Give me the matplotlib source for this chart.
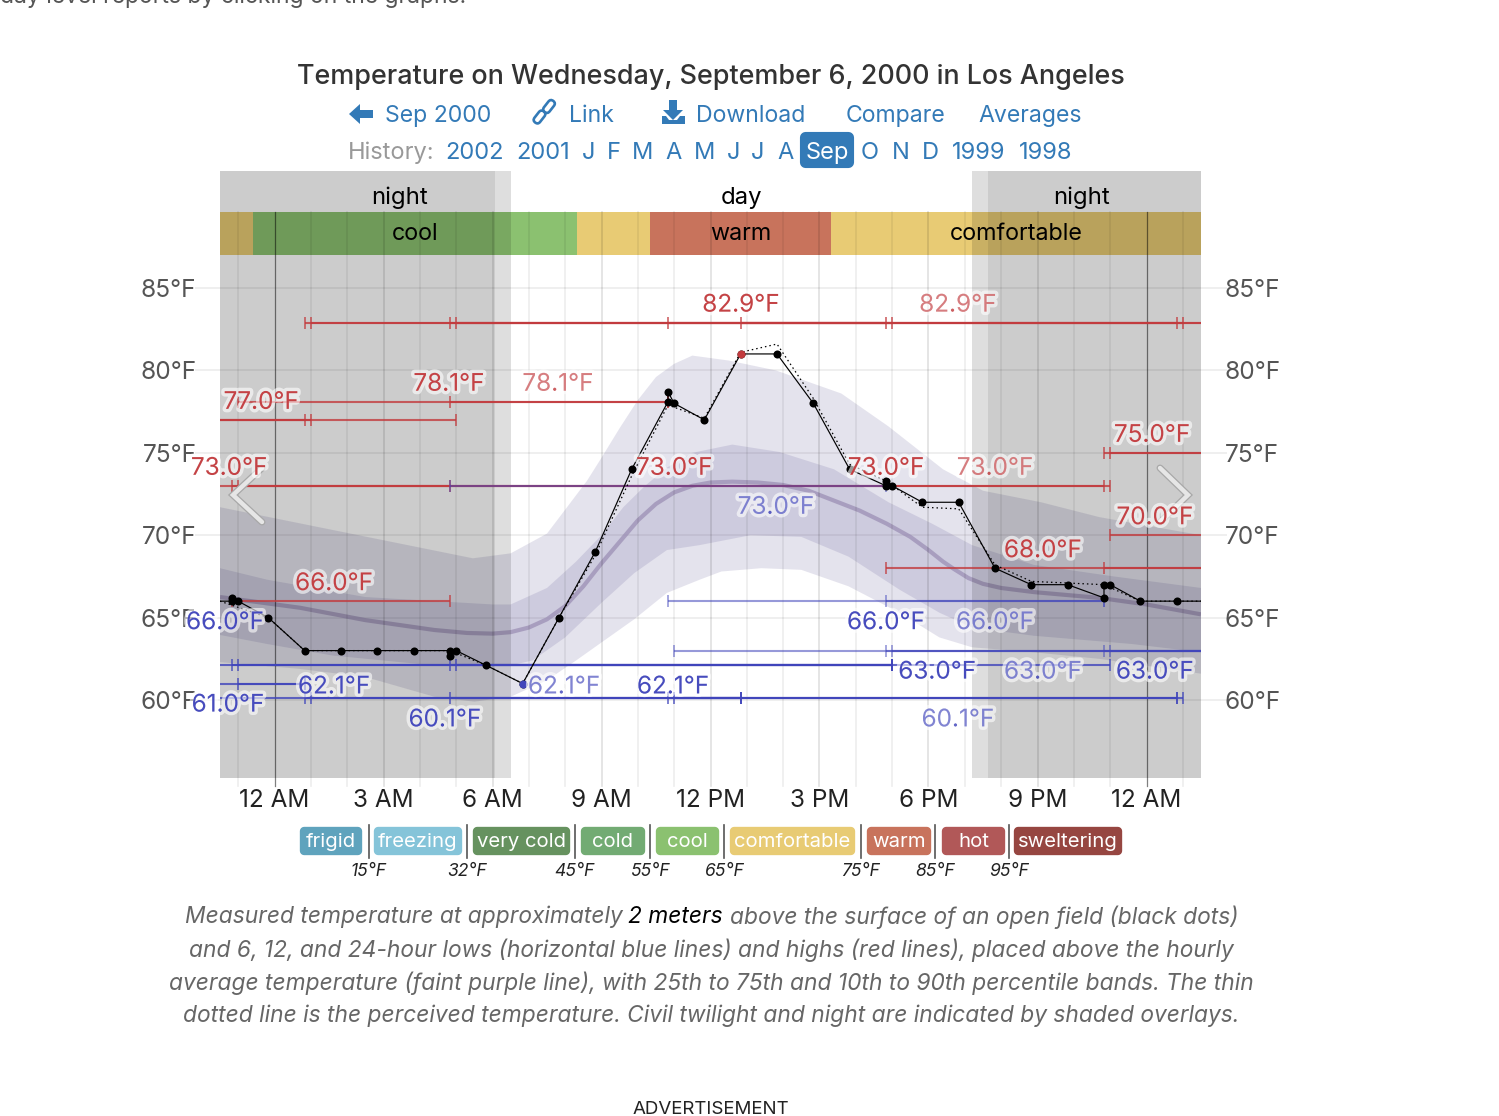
import matplotlib
matplotlib.use('Agg')
import matplotlib.pyplot as plt
import matplotlib.patheffects as pe
from matplotlib.patches import FancyBboxPatch, Polygon
from matplotlib.transforms import Affine2D

plt.rcParams['font.family'] = ['Inter', 'DejaVu Sans']

# observed temperature (hours after midnight, first and last are the plot edges)
obs_hours = [-1.5, -1.17, -1.17, -1.0, -0.17, 0.83, 1.83, 2.83, 3.83, 4.83, 4.83, 5.0, 5.83, 6.83, 7.83, 8.83, 9.83,
             10.83, 10.83, 11.0, 11.83, 12.83, 13.83, 14.83, 15.83, 16.83, 16.83, 17.0, 17.83, 18.83, 19.83, 20.83,
             21.83, 22.83, 22.83, 23.0, 23.83, 24.83, 25.5]
obs_temps = [66.0, 66.0, 66.2, 66.0, 65.0, 63.0, 63.0, 63.0, 63.0, 63.0, 62.7, 63.0, 62.1, 61.0, 65.0, 69.0, 74.0,
             78.1, 78.7, 78.0, 77.0, 81.0, 81.0, 78.0, 74.0, 73.0, 73.3, 73.0, 72.0, 72.0, 68.0, 67.0,
             67.0, 66.2, 67.0, 67.0, 66.0, 66.0, 66.0]
# perceived temperature
feel_hours = [-1.5, -0.17, 0.83, 4.83, 5.83, 6.83, 7.83, 8.83, 9.83, 10.83, 11.83, 12.83, 13.83, 14.83, 15.83, 16.83,
              17.83, 18.83, 19.83, 20.83, 21.83, 22.83, 23.83, 24.83, 25.5]
feel_temps = [66.0, 65.0, 63.0, 63.0, 62.1, 61.0, 65.0, 68.8, 73.6, 77.9, 77.1, 81.1, 81.6, 78.3, 74.3, 73.3,
              71.7, 71.6, 68.2, 67.2, 67.1, 67.0, 66.0, 66.0, 66.0]

# climate bands
p90_hours = [-1.5, 5.46, 6.5, 7.5, 8.0, 8.6, 9.0, 9.5, 10.0, 10.5, 11.0, 11.5, 12.5, 13.8, 15.6, 16.9, 18.4, 19.5, 21.1, 22.7, 25.5]
p90_temps = [71.7, 68.6, 68.9, 70.1, 71.55, 73.3, 74.7, 76.5, 78.2, 79.6, 80.4, 80.9, 80.6, 80.0, 78.6, 76.6, 74.0, 72.7, 72.0, 71.1, 70.0]
p75_hours = [-1.5, -0.2, 2.5, 6.0, 6.5, 7.5, 8.3, 9.0, 9.6, 10.2, 10.8, 11.5, 12.6, 13.9, 15.4, 16.9, 18.1, 19.2, 20.9, 23.1, 25.5]
p75_temps = [68.0, 67.3, 66.25, 65.8, 65.8, 66.8, 68.4, 70.0, 71.7, 73.0, 74.1, 75.0, 75.5, 75.05, 74.0, 72.0, 70.7, 69.4, 68.2, 67.5, 66.8]
avg_hours = [-1.5, 0.7, 2.5, 4.4, 5.3, 6.0, 6.5, 7.0, 7.5, 8.0, 8.5, 9.0, 9.5, 10.0, 10.5, 11.0, 11.5, 12.0, 12.6, 13.3, 14.0,
             14.7, 15.4, 16.1, 16.85, 17.5, 18.0, 18.4, 18.7, 19.1, 19.5, 20.0, 20.9, 22.7, 24.0, 25.5]
avg_temps = [66.25, 65.6, 64.85, 64.25, 64.07, 64.03, 64.12, 64.4, 64.9, 65.7, 66.9, 68.3, 69.6, 70.9, 71.9, 72.6, 73.0, 73.2, 73.25, 73.2, 73.05,
             72.7, 72.1, 71.5, 70.7, 69.9, 69.1, 68.4, 67.95, 67.4, 67.05, 66.8, 66.55, 66.2, 65.8, 65.2]
p25_hours = [-1.5, -0.2, 1.6, 4.4, 6.0, 6.5, 7.1, 8.0, 9.0, 9.9, 10.8, 11.7, 13.1, 14.5, 15.8, 17.2, 18.3, 19.2, 20.9, 23.6, 25.5]
p25_temps = [63.95, 63.4, 62.7, 62.1, 62.1, 62.1, 62.4, 63.8, 65.9, 67.7, 69.1, 69.4, 70.0, 69.9, 68.7, 66.7, 65.3, 64.4, 63.9, 63.4, 62.9]
p10_hours = [-1.5, 0.65, 2.5, 4.4, 5.5, 6.5, 7.5, 8.3, 9.9, 10.8, 11.7, 12.3, 13.4, 14.5, 15.8, 17.2, 18.3, 19.2, 20.9, 22.7, 25.5]
p10_temps = [62.3, 61.9, 61.4, 60.2, 59.9, 60.2, 61.2, 62.4, 64.9, 66.5, 67.3, 67.8, 68.0, 67.9, 66.9, 65.3, 63.8, 63.2, 62.9, 62.5, 61.6]

# 6, 12 and 24 hour highs and lows
high_starts = [0.83, 1.0, 4.83, 5.0, 10.83, 12.83, -1.0, 4.83, -1.5, -1.5, -1.5, 22.83, 23.0, -1.5, -1.17, -1.0, 23.0, 16.83, 22.83, -1.17]
high_ends = [24.83, 25.0, 16.83, 17.0, 25.5, 25.5, 10.83, 10.83, 0.83, 1.0, 5.0, 25.5, 25.5, 4.83, 22.83, 23.0, 25.5, 25.5, 25.5, 4.83]
high_values = [82.9, 82.9, 82.9, 82.9, 82.9, 82.9, 78.1, 78.1, 77.0, 77.0, 77.0, 75.0, 75.0, 73.0, 73.0, 73.0, 70.0, 68.0, 68.0, 66.0]
low_starts = [4.83, 10.83, 16.83, 11.0, 17.0, 16.83, 22.83, 23.0, -1.5, -1.17, -1.0, 4.83, 5.0, -1.5, -1.0, -1.5, 0.83, 1.0, 4.83, 10.83, 11.0]
low_ends = [16.83, 22.83, 22.83, 25.5, 25.5, 25.5, 25.5, 25.5, 23.0, 17.0, 17.0, 17.0, 17.0, 0.83, 0.83, 24.83, 24.83, 25.0, 12.83, 12.83, 12.83]
low_values = [73.0, 66.0, 66.0, 63.0, 63.0, 63.0, 63.0, 63.0, 62.1, 62.1, 62.1, 62.1, 62.1, 61.0, 61.0, 60.1, 60.1, 60.1, 60.1, 60.1, 60.1]

# value labels: hour, value, faded or not
high_label_hours = [12.84, 18.81, 4.8, 7.8, -0.37, -1.25, 11.0, 16.83, 19.83, 24.15, 24.23, 21.15, 1.64]
high_label_values = [82.9, 82.9, 78.1, 78.1, 77.0, 73.0, 73.0, 73.0, 73.0, 75.0, 70.0, 68.0, 66.0]
high_label_faded = [0, 1, 0, 1, 0, 0, 0, 0, 1, 0, 0, 0, 0]
low_label_hours = [13.8, -1.36, 16.83, 19.83, 18.24, 21.15, 24.23, 1.64, 7.97, 10.97, -1.28, 4.69, 18.81]
low_label_values = [73.0, 66.0, 66.0, 66.0, 63.0, 63.0, 63.0, 62.1, 62.1, 62.1, 61.0, 60.1, 60.1]
low_label_faded = [1, 0, 0, 1, 0, 1, 0, 0, 1, 0, 0, 0, 1]

# temperature category strip
band_edges = [-1.5, -0.6, 8.33, 10.33, 15.32, 25.5]
band_names = ['', 'cool', '', 'warm', 'comfortable']
band_colors = ['#e8cb74', '#8bc170', '#e8cb74', '#c8735c', '#e8cb74']
period_names = ['night', 'day', 'night']
period_hours = [3.45, 12.84, 22.2]
twilight_spans = [(-1.5, 6.51), (19.2, 25.5)]
night_spans = [(-1.5, 6.07), (19.64, 25.5)]

y_ticks = [85, 80, 75, 70, 65, 60]
x_ticks = [0, 3, 6, 9, 12, 15, 18, 21, 24]
x_tick_labels = ['12 AM', '3 AM', '6 AM', '9 AM', '12 PM', '3 PM', '6 PM', '9 PM', '12 AM']

# legend below the chart
legend_names = ['frigid', 'freezing', 'very cold', 'cold', 'cool', 'comfortable', 'warm', 'hot', 'sweltering']
legend_colors = ['#5fa3bd', '#85c4d9', '#66925f', '#72ab73', '#8bc170', '#e8cb74', '#c8735c', '#b15858', '#964641']
legend_left = [300, 374, 473, 581, 656, 730, 867, 942, 1014]
legend_right = [362, 462, 570, 645, 719, 855, 931, 1005, 1122]
legend_temps = ['15°F', '32°F', '45°F', '55°F', '65°F', '75°F', '85°F', '95°F']
legend_seps = [369, 467, 575, 650, 724.5, 861, 935, 1009]

nav_labels = ['Sep 2000', 'Link', 'Download', 'Compare', 'Averages']
nav_x = [438, 591, 751, 895.5, 1030]
history_labels = ['2002', '2001', 'J', 'F', 'M', 'A', 'M', 'J', 'J', 'A', 'O', 'N', 'D', '1999', '1998']
history_x = [475, 543, 589, 613.5, 643, 674, 704.5, 734, 758, 785.5, 870, 900.5, 930, 978.5, 1045.5]

RED = '#c23b3e'
BLUE = '#4045bb'
LINK = '#337ab7'

fig = plt.figure(figsize=(14.99, 11.16), dpi=100)
ax = fig.add_axes([220 / 1499, 1 - 778 / 1116, 981 / 1499, 607 / 1116])
ax.set_xlim(-1.5, 25.5)
ax.set_ylim(55.27, 92.1)
for s in ax.spines.values():
    s.set_visible(False)

ax.set_xticks(x_ticks)
ax.set_xticklabels(x_tick_labels)
ax.set_yticks(y_ticks)
ax.set_yticklabels([str(t) + '°F' for t in y_ticks])
ax.tick_params(axis='x', length=0, pad=8, labelsize=17.5, labelcolor='#222222')
ax.tick_params(axis='y', length=0, pad=17, labelsize=17.6, labelcolor='#555555', labelright=True)

ytrans = ax.get_yaxis_transform()
xtrans = ax.get_xaxis_transform()

# grid
ax.hlines(y_ticks, -0.025, 1.026, transform=ytrans, color='#000000', alpha=0.07, lw=1.3, clip_on=False, zorder=1)
for h in range(-1, 26):
    if h % 24 == 0:
        a, w = 0.5, 0.9
    elif h % 3 == 0:
        a, w = 0.12, 1.2
    else:
        a, w = 0.07, 1.2
    ax.plot([h, h], [-0.014, 0.932], transform=xtrans, color='black', alpha=a, lw=w, clip_on=False, zorder=5)

# percentile bands and average
ax.fill(p90_hours + p10_hours[::-1], p90_temps + p10_temps[::-1], color='#50468a', alpha=0.15, lw=0, zorder=2)
ax.fill(p75_hours + p25_hours[::-1], p75_temps + p25_temps[::-1], color='#50468a', alpha=0.15, lw=0, zorder=2)
ax.plot(avg_hours, avg_temps, color='#9c90b5', lw=3, alpha=0.75, zorder=3, solid_capstyle='butt')

# category strip
for i in range(len(band_names)):
    ax.axvspan(band_edges[i], band_edges[i + 1], 0.8616, 0.932, color=band_colors[i], lw=0, zorder=2)
    if band_names[i]:
        ax.text((band_edges[i] + band_edges[i + 1]) / 2, 0.8955, band_names[i], transform=xtrans, ha='center',
                va='center', fontsize=16.8, color='black', zorder=12)
for name, h in zip(period_names, period_hours):
    ax.text(h, 0.956, name, transform=xtrans, ha='center', va='center', fontsize=17.2, color='black', zorder=12)

# twilight and night overlays
for a, b in twilight_spans:
    ax.axvspan(a, b, color='black', alpha=0.13, lw=0, zorder=4)
for a, b in night_spans:
    ax.axvspan(a, b, color='black', alpha=0.08, lw=0, zorder=4)


def range_lines(starts, ends, values, color, faint=()):
    for a, b, v in zip(starts, ends, values):
        al = 0.55 if v in faint else 0.8
        ax.plot([a, b], [v, v], color=color, lw=1.5, alpha=al, zorder=6, solid_capstyle='butt')
        for h in (a, b):
            if -1.5 < h < 25.5:
                ax.plot([h], [v], marker='|', ms=8, mew=1.2, color=color, alpha=al, zorder=6)


range_lines(high_starts, high_ends, high_values, RED)
range_lines(low_starts, low_ends, low_values, BLUE, faint=(73.0, 66.0, 63.0))

# measured and perceived temperature
ax.plot(feel_hours, feel_temps, color='black', lw=0.9, ls=(0, (1.2, 2.4)), zorder=7)
ax.plot(obs_hours, obs_temps, color='black', lw=0.85, zorder=8)
ax.plot(obs_hours[1:-1], obs_temps[1:-1], ls='none', marker='o', ms=5.8, color='black', mew=0, zorder=9)
ax.plot([obs_hours[21]], [obs_temps[21]], marker='o', ms=5.8, color=RED, mew=0, zorder=10)
ax.plot([obs_hours[13]], [obs_temps[13]], marker='o', ms=5.8, color=BLUE, mew=0, zorder=10)


def value_labels(hours, values, faded, color, dy):
    for h, v, f in zip(hours, values, faded):
        al = 0.55 if f else 0.95
        ax.annotate('%.1f°F' % v, (h, v), xytext=(0, dy), textcoords='offset pixels', ha='center', va='center',
                    fontsize=17.5, color=color, alpha=al, zorder=11,
                    path_effects=[pe.withStroke(linewidth=5, foreground='white', alpha=0.6)])


value_labels(high_label_hours, high_label_values, high_label_faded, RED, 17.5)
value_labels(low_label_hours, low_label_values, low_label_faded, BLUE, -21.5)

# everything around the chart is placed in page pixels
page = fig.add_axes([0, 0, 1, 1], zorder=20)
page.set_xlim(0, 1499)
page.set_ylim(1116, 0)
page.axis('off')

page.text(0, 3.5, 'day level reports by clicking on the graphs.', fontsize=16.5, color='#555555', va='baseline')
page.text(711, 77, 'Temperature on Wednesday, September 6, 2000 in Los Angeles', fontsize=19.4, color='#333333',
          ha='center', va='center', fontweight='medium')
for t, x in zip(nav_labels, nav_x):
    page.text(x, 116, t, fontsize=16.6, color=LINK, ha='center', va='center')
page.text(391, 153, 'History:', fontsize=17, color='#999999', ha='center', va='center')
for t, x in zip(history_labels, history_x):
    page.text(x, 153, t, fontsize=17, color=LINK, ha='center', va='center')
page.add_patch(FancyBboxPatch((805.5, 137.5), 43, 25, boxstyle='round,pad=0,rounding_size=0.1', lw=8, ec=LINK, fc=LINK,
                              joinstyle='round'))
page.text(827, 153, 'Sep', fontsize=17, color='white', ha='center', va='center')

# nav icons
page.add_patch(Polygon([(349, 114), (360, 104), (360, 110), (373, 110), (373, 118), (360, 118), (360, 124)], fc=LINK, ec='none'))
page.add_patch(Polygon([(669, 100), (677, 100), (677, 110), (683, 110), (673, 120), (663, 110), (669, 110)], fc=LINK, ec='none'))
page.add_patch(Polygon([(662, 116), (666, 116), (669, 120), (677, 120), (680, 116), (685, 116), (685, 124), (662, 124)], fc=LINK, ec='none'))
for cx, cy in ((549, 106.5), (539.5, 117)):
    rot = Affine2D().rotate_deg_around(cx, cy, 38) + page.transData
    page.add_patch(FancyBboxPatch((cx - 3.5, cy - 7), 7, 14, boxstyle='round,pad=0,rounding_size=3.5', lw=1.9, ec=LINK,
                                  fc='none', transform=rot))

# previous / next chevrons sit under the value labels
for pts_x in ([262, 233, 262], [1160, 1188, 1160]):
    for col, w in (('#a8a8a8', 5.0), ('#e6e6e6', 3.2)):
        ax.plot(pts_x, [468, 495, 522], color=col, lw=w, solid_capstyle='round', solid_joinstyle='miter', zorder=10.5,
                transform=page.transData, clip_on=False)

# legend
for name, col, a, b in zip(legend_names, legend_colors, legend_left, legend_right):
    page.add_patch(FancyBboxPatch((a + 4, 831), b - a - 8, 20, boxstyle='round,pad=0,rounding_size=0.1', lw=6, ec=col,
                                  fc=col, joinstyle='round'))
    page.text((a + b) / 2, 842, name, fontsize=14.6, color='white', ha='center', va='center')
for t, x in zip(legend_temps, legend_seps):
    page.plot([x, x], [825, 858], color='#555555', lw=1.2)
    page.text(x, 872, t, fontsize=12.6, style='italic', color='#222222', ha='center', va='center')

# caption
cap_kw = dict(fontsize=16.4, style='italic', color='#666666', va='center')
page.text(623, 917, 'Measured temperature at approximately', ha='right', **cap_kw)
page.text(628, 917, '2 meters', fontsize=16.4, style='italic', color='black', va='center', ha='left')
page.text(730, 917, 'above the surface of an open field (black dots)', ha='left', **cap_kw)
page.text(711, 950, 'and 6, 12, and 24-hour lows (horizontal blue lines) and highs (red lines), placed above the hourly', ha='center', **cap_kw)
page.text(711, 983, 'average temperature (faint purple line), with 25th to 75th and 10th to 90th percentile bands. The thin', ha='center', **cap_kw)
page.text(711, 1016, 'dotted line is the perceived temperature. Civil twilight and night are indicated by shaded overlays.', ha='center', **cap_kw)
page.text(711, 1109, 'ADVERTISEMENT', fontsize=13.5, color='#222222', ha='center', va='center')

fig.savefig('out.png', dpi=100)
